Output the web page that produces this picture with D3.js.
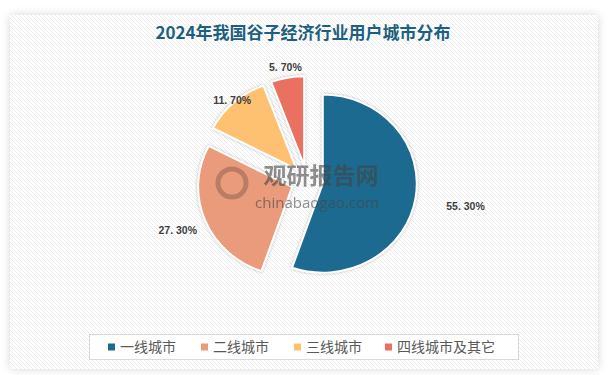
<!DOCTYPE html>
<html>
<head>
<meta charset="utf-8">
<script src="https://cdn.jsdelivr.net/npm/d3@7"></script>
<style>
  html, body { margin: 0; padding: 0; background: #fff; }
  svg { display: block; }
</style>
</head>
<body>
<div id="chart"></div>
<script>
// 数据
const categories = ['一线城市', '二线城市', '三线城市', '四线城市及其它'];
const values = [55.3, 27.3, 11.7, 5.7];
const colors = ['#1b6b8f', '#e99b7b', '#fec172', '#ea6f60'];
const title = '2024年我国谷子经济行业用户城市分布';

const width = 610;
const height = 375;
const cx = 307;
const cy = 181;
const rx = 94;
const ry = 89;
const explode = 16;
// label distance (times radius) for each slice, like excel best fit
const labelK = [1.54, 1.31, 1.03, 1.12];

const svg = d3.select('#chart').append('svg')
  .attr('width', width)
  .attr('height', height);

const defs = svg.append('defs');

const pattern = defs.append('pattern')
  .attr('id', 'hatch')
  .attr('patternUnits', 'userSpaceOnUse')
  .attr('width', 4)
  .attr('height', 4);
pattern.append('rect').attr('width', 4).attr('height', 4).attr('fill', '#ffffff');
pattern.append('path')
  .attr('d', 'M-1,-1 L5,5 M-1,3 L1,5 M3,-1 L5,1')
  .attr('stroke', '#ececec')
  .attr('stroke-width', 1);

const panelShadow = defs.append('filter').attr('id', 'panelShadow')
  .attr('x', '-5%').attr('y', '-5%').attr('width', '110%').attr('height', '110%');
panelShadow.append('feGaussianBlur').attr('stdDeviation', 5);

const sliceShadow = defs.append('filter').attr('id', 'sliceShadow')
  .attr('x', '-20%').attr('y', '-20%').attr('width', '140%').attr('height', '140%');
sliceShadow.append('feDropShadow')
  .attr('dx', 0).attr('dy', 0)
  .attr('stdDeviation', 1.6)
  .attr('flood-color', '#000')
  .attr('flood-opacity', 0.3);

// 背景
svg.append('rect')
  .attr('x', 10).attr('y', 15)
  .attr('width', 588).attr('height', 354)
  .attr('fill', '#d8d8d8')
  .attr('filter', 'url(#panelShadow)');
svg.append('rect')
  .attr('x', 10).attr('y', 15)
  .attr('width', 588).attr('height', 354)
  .attr('fill', 'url(#hatch)');

// 标题
svg.append('text')
  .attr('x', 303)
  .attr('y', 39)
  .attr('text-anchor', 'middle')
  .attr('font-family', '"Noto Sans CJK SC", sans-serif')
  .attr('font-size', 17)
  .attr('font-weight', 'bold')
  .attr('fill', '#1d5f80')
  .text(title);

// 饼图
const pie = d3.pie().sort(null).value(d => d)(values);
const arc = d3.arc().innerRadius(0).outerRadius(rx);

const gPie = svg.append('g').attr('class', 'gPie');

const slices = gPie.selectAll('.gSlice')
  .data(pie)
  .enter()
  .append('g')
  .attr('class', 'gSlice')
  .attr('transform', d => {
    const a = (d.startAngle + d.endAngle) / 2;
    const x = cx + Math.sin(a) * explode;
    const y = cy - Math.cos(a) * explode;
    return `translate(${x}, ${y}) scale(1, ${ry / rx})`;
  });

slices.append('path')
  .attr('d', arc)
  .attr('fill', (d, i) => colors[i])
  .attr('stroke', '#ffffff')
  .attr('stroke-width', 2)
  .attr('stroke-linejoin', 'round')
  .attr('filter', 'url(#sliceShadow)');

// 水印
const wm = svg.append('g').attr('opacity', 0.6);
wm.append('text')
  .attr('x', 321).attr('y', 184)
  .attr('text-anchor', 'middle')
  .attr('font-family', '"Noto Sans CJK SC", sans-serif')
  .attr('font-size', 23)
  .attr('font-weight', 'bold')
  .attr('fill', '#454545')
  .text('观研报告网');
wm.append('text')
  .attr('x', 317).attr('y', 208)
  .attr('text-anchor', 'middle')
  .attr('font-family', '"Open Sans", sans-serif')
  .attr('font-size', 15)
  .attr('fill', '#454545')
  .text('chinabaogao.com');
wm.append('circle')
  .attr('cx', 232).attr('cy', 183).attr('r', 14)
  .attr('fill', 'none')
  .attr('stroke', '#9a6a55')
  .attr('stroke-width', 5);

// 数据标签
gPie.selectAll('.label')
  .data(pie)
  .enter()
  .append('text')
  .attr('class', 'label')
  .attr('x', (d, i) => {
    const a = (d.startAngle + d.endAngle) / 2;
    return cx + Math.sin(a) * (explode + labelK[i] * rx);
  })
  .attr('y', (d, i) => {
    const a = (d.startAngle + d.endAngle) / 2;
    return cy - Math.cos(a) * (explode + labelK[i] * ry);
  })
  .attr('dy', '0.35em')
  .attr('text-anchor', 'middle')
  .attr('font-family', '"Liberation Sans", Arial, sans-serif')
  .attr('font-size', 10.5)
  .attr('font-weight', 'bold')
  .attr('fill', '#404040')
  .text(d => d.value.toFixed(2).replace('.', '. ') + '%');

// 图例
svg.append('rect')
  .attr('x', 89.5).attr('y', 334.5)
  .attr('width', 429).attr('height', 25)
  .attr('fill', '#ffffff')
  .attr('stroke', '#d9d9d9')
  .attr('stroke-width', 1);

const legendX = d3.scaleOrdinal()
  .domain(categories)
  .range([108, 201, 294, 385]);

const legend = svg.selectAll('.gLegend')
  .data(categories)
  .enter()
  .append('g')
  .attr('class', 'gLegend')
  .attr('transform', d => `translate(${legendX(d)}, 347)`);

legend.append('rect')
  .attr('x', 0).attr('y', -3.5)
  .attr('width', 7).attr('height', 7)
  .attr('fill', (d, i) => colors[i]);

legend.append('text')
  .attr('x', 12)
  .attr('dy', '0.35em')
  .attr('font-family', '"Noto Sans CJK SC", sans-serif')
  .attr('font-size', 14)
  .attr('fill', '#595959')
  .text(d => d);
</script>
</body>
</html>
